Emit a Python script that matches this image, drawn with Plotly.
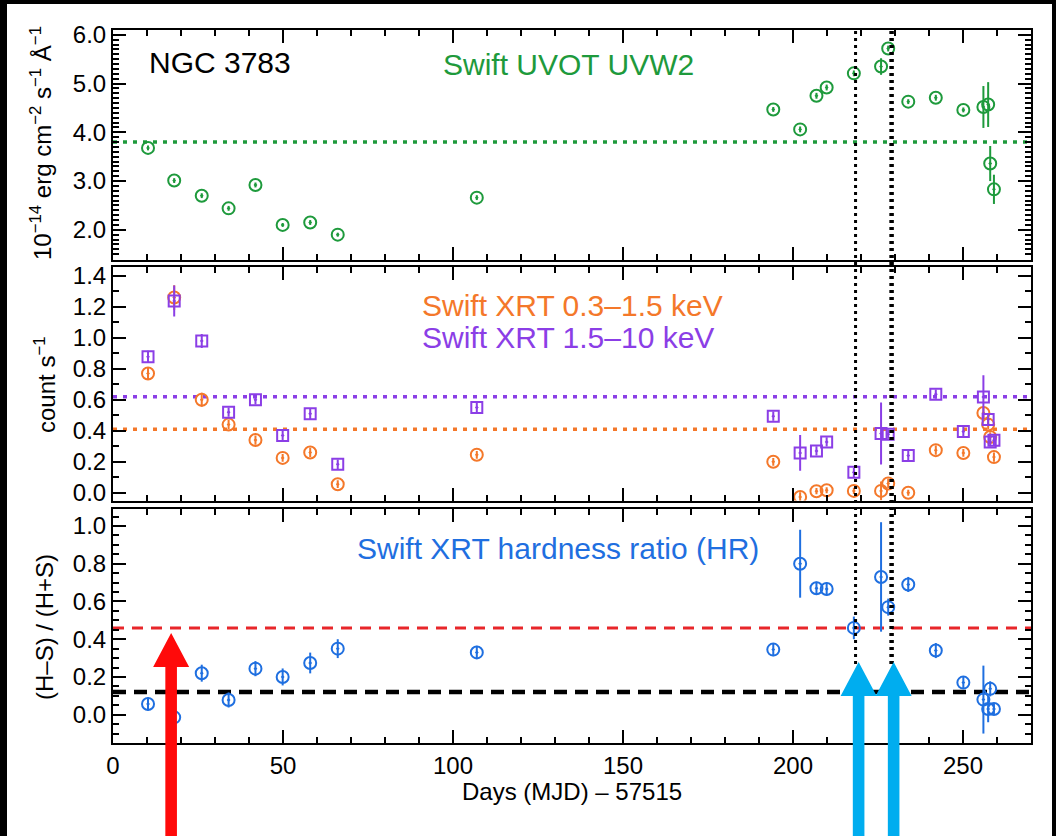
import plotly.graph_objects as go

# ---------------- data ----------------
# Observation epochs, days after MJD 57515
days = [10.3, 18.0, 26.1, 34.0, 41.9, 49.9, 58.0, 66.1, 107.0,
        194.2, 202.1, 206.9, 209.9, 217.9, 225.9, 228.0, 233.9,
        242.0, 250.1, 256.0, 257.4, 258.0, 259.1]

# Swift UVOT UVW2 flux (1e-14 erg cm^-2 s^-1 A^-1)
uvw2 = [3.68, 3.01, 2.70, 2.44, 2.92, 2.10, 2.15, 1.90, 2.66,
        4.47, 4.06, 4.75, 4.92, 5.21, 5.35, 5.72, 4.63,
        4.71, 4.46, 4.52, 4.57, 3.36, 2.83]
uvw2_err = [0.05, 0.05, 0.05, 0.05, 0.05, 0.04, 0.05, 0.04, 0.05,
            0.05, 0.06, 0.06, 0.06, 0.06, 0.17, 0.06, 0.05,
            0.06, 0.05, 0.43, 0.46, 0.36, 0.30]
uvw2_mean = 3.80

# Swift XRT count rates (count/s)
soft = [0.77, 1.26, 0.60, 0.44, 0.34, 0.225, 0.26, 0.055, 0.245,
        0.20, -0.027, 0.01, 0.016, 0.012, 0.012, 0.06, 0.0,
        0.275, 0.257, 0.515, 0.44, 0.36, 0.23]
soft_err = [0.04, 0.08, 0.045, 0.03, 0.03, 0.025, 0.03, 0.025, 0.025,
            0.025, 0.03, 0.02, 0.02, 0.02, 0.06, 0.03, 0.02,
            0.03, 0.025, 0.04, 0.03, 0.03, 0.03]
hard = [0.877, 1.238, 0.98, 0.52, 0.60, 0.37, 0.51, 0.184, 0.55,
        0.494, 0.257, 0.27, 0.328, 0.132, 0.382, 0.378, 0.24,
        0.636, 0.395, 0.618, 0.473, 0.328, 0.339]
hard_err = [0.04, 0.10, 0.045, 0.03, 0.03, 0.03, 0.035, 0.03, 0.03,
            0.03, 0.115, 0.03, 0.03, 0.03, 0.20, 0.03, 0.03,
            0.03, 0.03, 0.14, 0.04, 0.03, 0.03]
soft_mean = 0.41
hard_mean = 0.62

# Hardness ratio (H-S)/(H+S)
hr = [0.057, -0.014, 0.22, 0.078, 0.244, 0.20, 0.274, 0.35, 0.33,
      0.345, 0.80, 0.67, 0.666, 0.46, 0.73, 0.57, 0.69,
      0.34, 0.17, 0.08, 0.03, 0.137, 0.03]
hr_err = [0.035, 0.03, 0.045, 0.04, 0.04, 0.045, 0.055, 0.05, 0.035,
          0.035, 0.18, 0.035, 0.035, 0.06, 0.29, 0.045, 0.04,
          0.04, 0.03, 0.18, 0.07, 0.04, 0.03]
hr_mean = 0.12
hr_obscured = 0.46

# Epochs marked by dotted lines and arrows
event_days = [218.4, 229.0]
arrow_days = [17.1, 219.3, 229.6]

x_ticks = [0, 50, 100, 150, 200, 250]

# ---------------- styling ----------------
FONT = "Liberation Sans, Arial, Helvetica, sans-serif"
GREEN = "#1e9a3c"
ORANGE = "#f4782a"
PURPLE = "#8b3ee6"
BLUE = "#1f6fe0"
RED_LINE = "#e8262a"
RED_ARROW = "#ff0a0a"
CYAN_ARROW = "#00adef"

W, H = 1056, 836
L, R, T, B = 113, 1031, 30, 743   # plot-area edges in pixels


def fx(p):
    return (p - L) / (R - L)


def fy(p):
    return (B - p) / (B - T)


PX_PER_DAY = (R - L) / 270.0


def err(vals, color):
    return dict(type="data", array=vals, visible=True, color=color,
                thickness=2, width=0)


fig = go.Figure()

# --- top panel: UVW2 ---
fig.add_trace(go.Scatter(x=[0, 270], y=[uvw2_mean, uvw2_mean], mode="lines",
                         line=dict(color=GREEN, width=3.5, dash="4px,6px"),
                         xaxis="x", yaxis="y", hoverinfo="skip"))
fig.add_trace(go.Scatter(x=days, y=uvw2, mode="markers",
                         marker=dict(symbol="circle-open-dot", size=12, color=GREEN,
                                     line=dict(width=2, color=GREEN)),
                         error_y=err(uvw2_err, GREEN), xaxis="x", yaxis="y"))

# --- middle panel: XRT count rates ---
fig.add_trace(go.Scatter(x=[0, 270], y=[hard_mean, hard_mean], mode="lines",
                         line=dict(color=PURPLE, width=3.5, dash="4px,6px"),
                         xaxis="x2", yaxis="y2", hoverinfo="skip"))
fig.add_trace(go.Scatter(x=[0, 270], y=[soft_mean, soft_mean], mode="lines",
                         line=dict(color=ORANGE, width=3.5, dash="4px,6px"),
                         xaxis="x2", yaxis="y2", hoverinfo="skip"))
fig.add_trace(go.Scatter(x=days, y=soft, mode="markers",
                         marker=dict(symbol="circle-open-dot", size=12, color=ORANGE,
                                     line=dict(width=2, color=ORANGE)),
                         error_y=err(soft_err, ORANGE), xaxis="x2", yaxis="y2"))
fig.add_trace(go.Scatter(x=days, y=hard, mode="markers",
                         marker=dict(symbol="square-open-dot", size=11, color=PURPLE,
                                     line=dict(width=2, color=PURPLE)),
                         error_y=err(hard_err, PURPLE), xaxis="x2", yaxis="y2"))

# --- bottom panel: hardness ratio ---
fig.add_trace(go.Scatter(x=[0, 270], y=[hr_obscured, hr_obscured], mode="lines",
                         line=dict(color=RED_LINE, width=3, dash="11px,8px"),
                         xaxis="x3", yaxis="y3", hoverinfo="skip"))
fig.add_trace(go.Scatter(x=[0, 270], y=[hr_mean, hr_mean], mode="lines",
                         line=dict(color="black", width=4.5, dash="13px,8px"),
                         xaxis="x3", yaxis="y3", hoverinfo="skip"))
fig.add_trace(go.Scatter(x=days, y=hr, mode="markers",
                         marker=dict(symbol="circle-open-dot", size=12, color=BLUE,
                                     line=dict(width=2, color=BLUE)),
                         error_y=err(hr_err, BLUE), xaxis="x3", yaxis="y3"))

# ---------------- axes ----------------
tickfont = dict(family=FONT, size=24, color="black")
common = dict(showline=True, linecolor="black", linewidth=2, mirror="allticks",
              ticks="inside", ticklen=13, tickwidth=2, tickcolor="black",
              showgrid=False, zeroline=False, tickfont=tickfont)


def minor(dt):
    return dict(ticks="inside", ticklen=6, tickwidth=1.5, tickcolor="black",
                dtick=dt, showgrid=False)


xcommon = dict(common, range=[0, 270], tickmode="array", tickvals=x_ticks,
               minor=minor(10), domain=[0, 1])

fig.update_layout(
    xaxis=dict(xcommon, anchor="y", showticklabels=False),
    xaxis2=dict(xcommon, anchor="y2", showticklabels=False),
    xaxis3=dict(xcommon, anchor="y3", showticklabels=True,
                ticktext=[str(v) for v in x_ticks]),
    yaxis=dict(common, domain=[fy(260), 1.0], range=[1.38, 6.10],
               tick0=0, dtick=1.0, tickformat=".1f", minor=minor(0.1), anchor="x"),
    yaxis2=dict(common, domain=[fy(500.5), fy(267)], range=[-0.05, 1.457],
                tick0=0, dtick=0.2, tickformat=".1f", minor=minor(0.1), anchor="x2"),
    yaxis3=dict(common, domain=[0, fy(509)], range=[-0.15, 1.09],
                tick0=0, dtick=0.2, tickformat=".1f", minor=minor(0.05), anchor="x3"),
)

# ---------------- shapes ----------------
shapes = []
# dotted vertical lines through all panels
for d, w in zip(event_days, [3, 4.5]):
    shapes.append(dict(type="line", xref="x", yref="paper", x0=d, x1=d,
                       y0=fy(664), y1=1.0, layer="above",
                       line=dict(color="black", width=w, dash="3px,4px")))

# arrows rising from the bottom edge
arrow_geom = [(RED_ARROW, 633), (CYAN_ARROW, 662), (CYAN_ARROW, 662)]
for d, (col, tip) in zip(arrow_days, arrow_geom):
    hw = 5.8 / PX_PER_DAY
    HW = 18.0 / PX_PER_DAY
    yb, ybase, ytip = fy(845), fy(tip + 34), fy(tip)
    path = (f"M{d - hw},{yb} L{d - hw},{ybase} L{d - HW},{ybase} L{d},{ytip} "
            f"L{d + HW},{ybase} L{d + hw},{ybase} L{d + hw},{yb} Z")
    shapes.append(dict(type="path", xref="x3", yref="paper", path=path,
                       fillcolor=col, line=dict(width=0), layer="above"))

# dark frame around the page
for x0, x1, y0, y1 in [(-10, 7, -10, 850), (-10, 1070, -10, 4), (1052, 1070, -10, 850)]:
    shapes.append(dict(type="rect", xref="paper", yref="paper",
                       x0=fx(x0), x1=fx(x1), y0=fy(y1), y1=fy(y0),
                       fillcolor="black", line=dict(width=0), layer="above"))

# ---------------- text ----------------
ann = []


def label(text, x, y, color, size=30, xanchor="left", angle=0):
    ann.append(dict(text=text, xref="paper", yref="paper", x=fx(x), y=fy(y),
                    xanchor=xanchor, yanchor="middle", showarrow=False,
                    textangle=angle, font=dict(family=FONT, size=size, color=color)))


label("NGC 3783", 147, 62, "black")
label("Swift UVOT UVW2", 441, 64, GREEN)
label("Swift XRT 0.3\u20131.5 keV", 420, 305, ORANGE)
label("Swift XRT 1.5\u201310 keV", 420, 337, PURPLE)
label("Swift XRT hardness ratio (HR)", 355, 548, BLUE)

label("10<sup>\u221214</sup> erg cm<sup>\u22122</sup> s<sup>\u22121</sup> \u00c5<sup>\u22121</sup>",
      41, 143, "black", size=24, xanchor="center", angle=-90)
label("count s<sup>\u22121</sup>", 45, 385, "black", size=24, xanchor="center", angle=-90)
label("(H\u2013S) / (H+S)", 44, 627, "black", size=24, xanchor="center", angle=-90)
label("Days (MJD) \u2013 57515", 572, 791, "black", size=24, xanchor="center")

fig.update_layout(
    width=W, height=H,
    margin=dict(l=L, r=W - R, t=T, b=H - B),
    paper_bgcolor="white", plot_bgcolor="white",
    showlegend=False,
    shapes=shapes, annotations=ann,
    font=dict(family=FONT, color="black"),
)

fig.write_html("out.html")
